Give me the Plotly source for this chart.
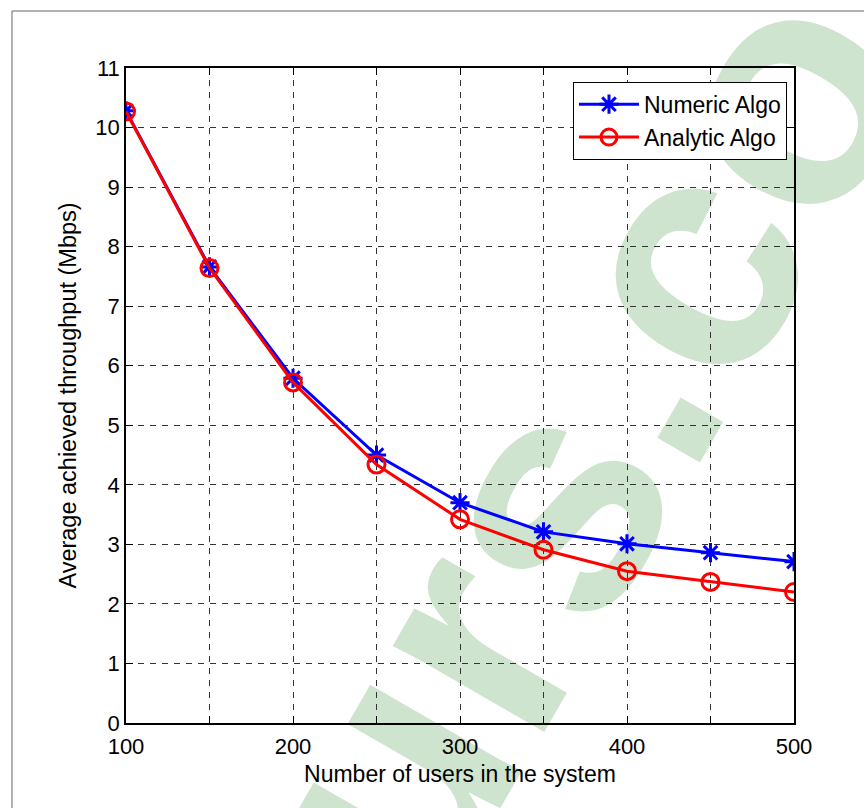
import plotly.graph_objects as go

users = [100, 150, 200, 250, 300, 350, 400, 450, 500]
numeric_algo = [10.28, 7.66, 5.79, 4.50, 3.70, 3.21, 3.01, 2.86, 2.71]
analytic_algo = [10.27, 7.64, 5.72, 4.34, 3.42, 2.91, 2.55, 2.37, 2.20]
x_ticks = [100, 200, 300, 400, 500]
x_minor = [150, 250, 350, 450]
y_ticks = list(range(0, 12))

FONT = "Liberation Sans, Arial, sans-serif"

fig = go.Figure()
fig.add_trace(go.Scatter(
    x=users, y=numeric_algo, mode="lines+markers", name="Numeric Algo",
    line=dict(color="#0000ff", width=3),
    marker=dict(symbol="asterisk-open", size=16, color="#0000ff",
                line=dict(color="#0000ff", width=3)),
))
fig.add_trace(go.Scatter(
    x=users, y=analytic_algo, mode="lines+markers", name="Analytic Algo",
    line=dict(color="#ff0000", width=3),
    marker=dict(symbol="circle-open", size=17, color="#ff0000",
                line=dict(color="#ff0000", width=3)),
))

axis_common = dict(
    showline=True, linecolor="black", linewidth=1.5, mirror="ticks",
    ticks="inside", ticklen=7, tickwidth=1, tickcolor="black",
    showgrid=True, gridcolor="#333333", gridwidth=1, griddash="6px,6px",
    zeroline=False, tickfont=dict(family=FONT, size=22, color="black"),
)

fig.update_xaxes(range=[100, 500], tickvals=x_ticks, **axis_common,
                 ticklabelstandoff=3,
                 title=dict(text="Number of users in the system", standoff=8,
                            font=dict(family=FONT, size=23, color="black")))
fig.update_yaxes(range=[0, 11], tickvals=y_ticks, **axis_common,
                 title=dict(text="Average achieved throughput (Mbps)", standoff=12,
                            font=dict(family=FONT, size=23.5, color="black")))
fig.update_xaxes(minor=dict(tickvals=x_minor, showgrid=True,
                            gridcolor="#333333", griddash="6px,6px", gridwidth=1,
                            ticks="inside", ticklen=7, tickcolor="black"))

fig.update_layout(
    width=864, height=808,
    margin=dict(l=126, r=70, t=68, b=85),
    paper_bgcolor="white", plot_bgcolor="rgba(0,0,0,0)",
    font=dict(family=FONT, color="black"),
    legend=dict(x=0.9895, y=0.979, xanchor="right", yanchor="top",
                bgcolor="white", bordercolor="black", borderwidth=1,
                font=dict(family=FONT, size=23, color="black"),
                itemwidth=60, tracegroupgap=0),
    showlegend=True,
    shapes=[
        # watermark (behind everything)
        dict(type="rect", xref="paper", yref="paper",
             x0=0.63, x1=0.65, y0=0.445, y1=0.465, layer="below",
             line=dict(width=0), fillcolor="rgba(0,0,0,0)",
             label=dict(text="urs.co", textangle=-60, textposition="middle center",
                        font=dict(family=FONT, size=330, color="#cfe4cf", weight="bold"))),
        # figure border
        dict(type="rect", xref="paper", yref="paper",
             x0=-0.1707, x1=1.3, y0=-0.3, y1=1.087, layer="below",
             line=dict(color="#666666", width=1), fillcolor="rgba(0,0,0,0)"),
    ],
)

fig.write_html("out.html")
